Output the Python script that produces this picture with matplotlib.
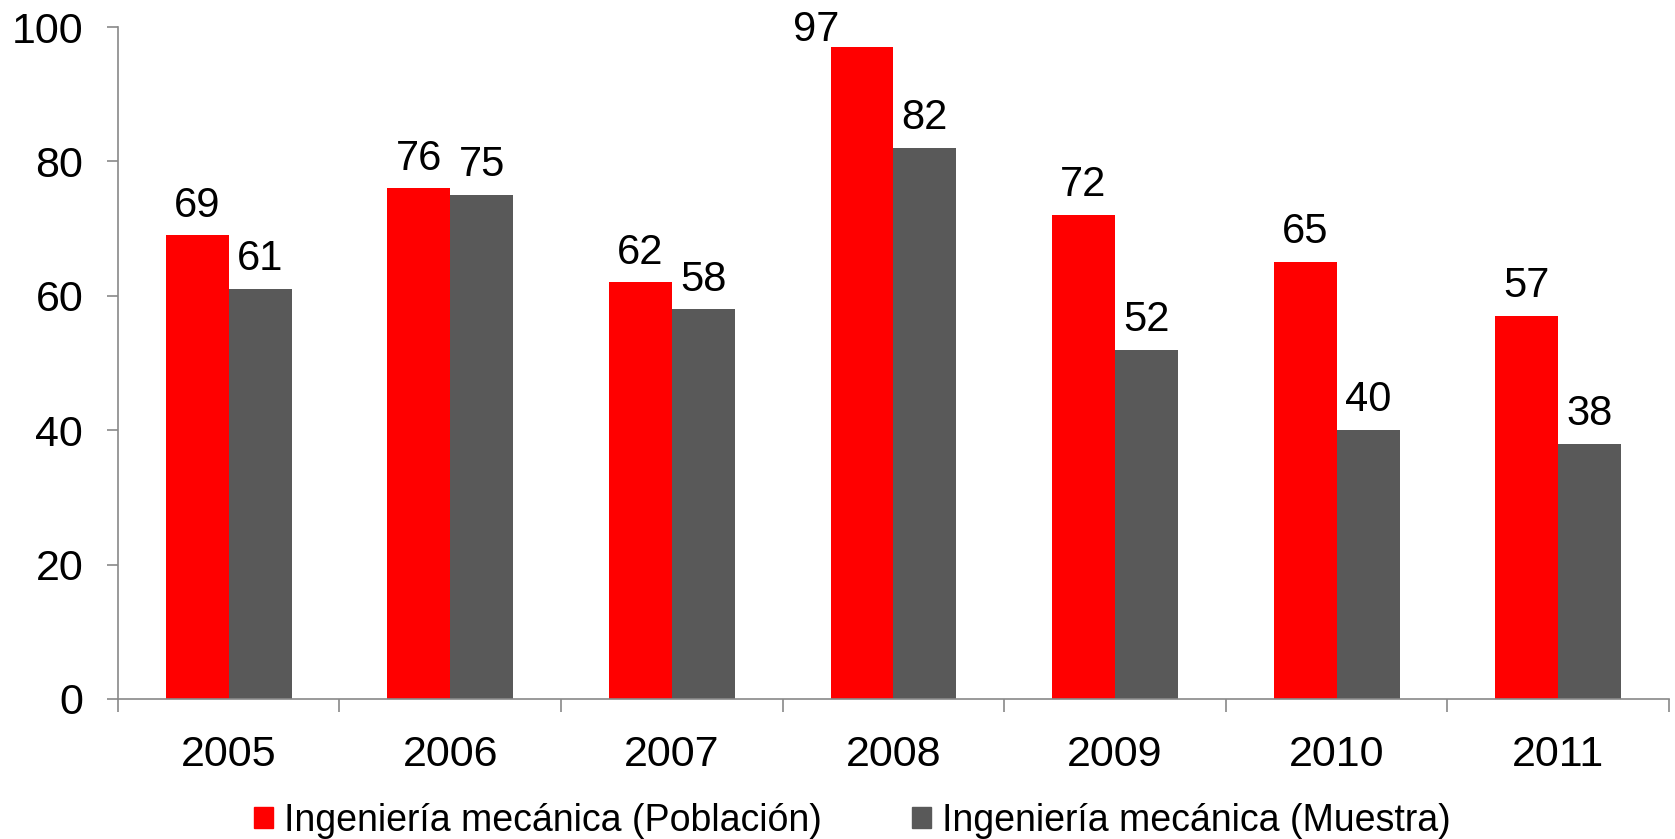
import numpy as np
import matplotlib
matplotlib.use("Agg")
import matplotlib.pyplot as plt
from matplotlib.patches import Patch

years = ["2005", "2006", "2007", "2008", "2009", "2010", "2011"]
poblacion = [69, 76, 62, 97, 72, 65, 57]
muestra = [61, 75, 58, 82, 52, 40, 38]
series_names = ["Ingeniería mecánica (Población)", "Ingeniería mecánica (Muestra)"]

RED = "#FF0000"
GRAY = "#595959"
AXIS = "#898989"

plt.rcParams["font.family"] = ["Liberation Sans", "DejaVu Sans"]

fig = plt.figure(figsize=(16.75, 8.39), dpi=100)
ax = fig.add_axes([0.0704, 0.1669, 0.9260, 0.8009])

x = np.arange(len(years))
w = 0.284
b1 = ax.bar(x - w / 2, poblacion, w, color=RED, linewidth=0)
b2 = ax.bar(x + w / 2, muestra, w, color=GRAY, linewidth=0)
lab1 = ax.bar_label(b1, fontsize=30, padding=7)
ax.bar_label(b2, fontsize=30, padding=7)
# the tallest label is nudged up-left so it stays inside the figure
for t, v in zip(lab1, poblacion):
    if v > 90:
        t.xyann = (-33, -2)

ax.set_xlim(-0.5, len(years) - 0.5)
ax.set_ylim(0, 100)
ax.set_yticks(range(0, 101, 20))
ax.tick_params(axis="y", labelsize=31, length=8, width=1.2, color=AXIS, pad=17)

# category labels centred, tick marks on the boundaries
ax.set_xticks(np.arange(-0.5, len(years)), minor=False)
ax.set_xticklabels([])
ax.set_xticks(x, minor=True)
ax.set_xticklabels(years, minor=True)
ax.tick_params(axis="x", which="major", length=9, width=1.2, color=AXIS)
ax.tick_params(axis="x", which="minor", length=0, labelsize=31, pad=26)

for side in ("top", "right"):
    ax.spines[side].set_visible(False)
for side in ("left", "bottom"):
    ax.spines[side].set_color(AXIS)
    ax.spines[side].set_linewidth(1.2)

handles = [Patch(color=RED), Patch(color=GRAY)]
fig.legend(handles, series_names, loc="center", bbox_to_anchor=(0.509, 0.022),
           ncol=2, frameon=False, fontsize=27, handlelength=0.5,
           handleheight=0.5, handletextpad=0.3, columnspacing=2.4,
           borderpad=0, borderaxespad=0)

fig.savefig("out.png", dpi=100)
